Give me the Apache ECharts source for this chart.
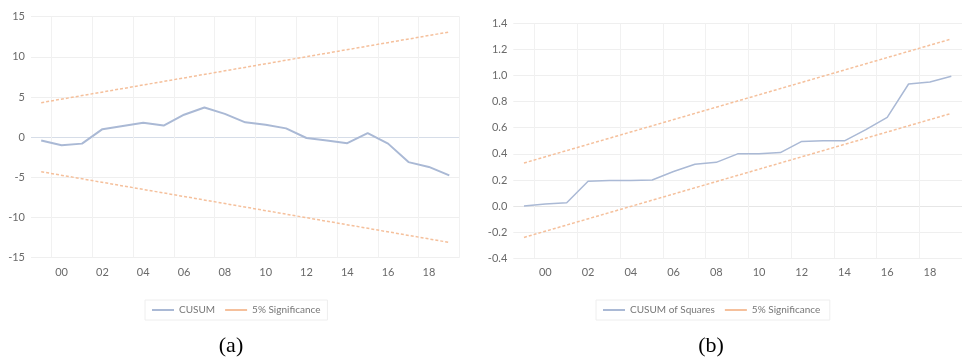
<!DOCTYPE html>
<html>
<head>
<meta charset="utf-8">
<title>CUSUM tests</title>
<script src="https://cdn.jsdelivr.net/npm/echarts@6/dist/echarts.min.js"></script>
<style>
  html, body { margin: 0; padding: 0; background: #fff; }
  #chart { width: 962px; height: 360px; }
</style>
</head>
<body>
<div id="chart"></div>
<script>
// 年份 1999-2019
const years = ['1999', '2000', '2001', '2002', '2003', '2004', '2005', '2006', '2007', '2008', '2009',
  '2010', '2011', '2012', '2013', '2014', '2015', '2016', '2017', '2018', '2019'];

// (a) CUSUM
const cusum = [-0.4, -1.0, -0.8, 1.0, 1.4, 1.8, 1.45, 2.8, 3.7, 2.9, 1.85,
  1.55, 1.1, -0.1, -0.4, -0.75, 0.5, -0.8, -3.1, -3.7, -4.75];
// 5% 显著性边界：直线，只取两端
const cusumUpper = [['1999', 4.3], ['2019', 13.1]];
const cusumLower = [['1999', -4.3], ['2019', -13.1]];
const cusumTicks = [-15, -10, -5, 0, 5, 10, 15];

// (b) CUSUM of Squares
const cusumSq = [0.0, 0.015, 0.025, 0.19, 0.195, 0.195, 0.2, 0.265, 0.32, 0.335, 0.4,
  0.4, 0.41, 0.495, 0.5, 0.5, 0.585, 0.68, 0.935, 0.95, 0.995];
const sqUpper = [['1999', 0.33], ['2019', 1.28]];
const sqLower = [['1999', -0.24], ['2019', 0.71]];
const sqTicks = [-0.4, -0.2, 0.0, 0.2, 0.4, 0.6, 0.8, 1.0, 1.2, 1.4];

const FONT = 'Lato';
const blue = '#aab9d5';
const orange = '#f5c09c';
const gridColor = '#efefef';

// 偶数年显示标签和竖线
const evenYear = (idx) => idx % 2 === 1;

function xAxis(gridIndex) {
  return {
    type: 'category',
    gridIndex: gridIndex,
    data: years,
    boundaryGap: true,
    axisLine: { show: false },
    axisTick: { show: false },
    axisLabel: {
      interval: evenYear,
      formatter: (v) => v.slice(2),
      color: '#6a6a6a',
      fontFamily: FONT,
      fontSize: 11,
      margin: 9
    },
    splitLine: { show: true, interval: evenYear, lineStyle: { color: '#f1f1f1', width: 1 } }
  };
}

function yAxis(gridIndex, ticks, digits, zeroColor) {
  const step = +(ticks[1] - ticks[0]).toFixed(2);
  return {
    type: 'value',
    gridIndex: gridIndex,
    min: ticks[0],
    max: ticks[ticks.length - 1],
    interval: step,
    axisLine: { show: false },
    axisTick: { show: false },
    axisLabel: {
      formatter: (v) => v.toFixed(digits),
      color: '#6a6a6a',
      fontFamily: FONT,
      fontSize: 11,
      margin: 6
    },
    splitLine: {
      lineStyle: { color: ticks.map((t) => (Math.abs(t) < 1e-9 ? zeroColor : gridColor)), width: 1 }
    }
  };
}

function line(name, data, axisIdx, color, width, dashed) {
  return {
    name: name,
    type: 'line',
    xAxisIndex: axisIdx,
    yAxisIndex: axisIdx,
    data: data,
    symbol: 'none',
    lineStyle: { color: color, width: width, type: dashed ? [3, 2] : 'solid' },
    itemStyle: { color: color }
  };
}

function legend(names, left) {
  return {
    data: names,
    left: left,
    top: 300,
    padding: [5, 7],
    icon: 'rect',
    itemWidth: 22,
    itemHeight: 2,
    itemGap: 10,
    borderColor: '#eeeeee',
    borderWidth: 1,
    textStyle: { color: '#777', fontFamily: FONT, fontSize: 10 }
  };
}

const chart = echarts.init(document.getElementById('chart'));

const option = {
  animation: false,
  backgroundColor: '#fff',
  grid: [
    { left: 31, right: 502.5, top: 16.7, height: 241 },
    { left: 513.3, right: -4.3, top: 23.3, height: 235 }
  ],
  xAxis: [xAxis(0), xAxis(1)],
  yAxis: [yAxis(0, cusumTicks, 0, '#d6dde8'), yAxis(1, sqTicks, 1, '#e6e6e6')],
  legend: [
    legend(['CUSUM', '5% Significance'], 145),
    legend(['CUSUM of Squares', '5% Significance '], 596)
  ],
  series: [
    line('CUSUM', cusum, 0, blue, 2, false),
    line('5% Significance', cusumUpper, 0, orange, 1.5, true),
    line('5% Significance', cusumLower, 0, orange, 1.5, true),
    line('CUSUM of Squares', cusumSq, 1, blue, 1.5, false),
    line('5% Significance ', sqUpper, 1, orange, 1.5, true),
    line('5% Significance ', sqLower, 1, orange, 1.5, true)
  ],
  graphic: [
    {
      type: 'text', x: 231, y: 346,
      style: { text: '(a)', font: '22px "Liberation Serif"', fill: '#000', textAlign: 'center', textVerticalAlign: 'middle' }
    },
    {
      type: 'text', x: 711, y: 346,
      style: { text: '(b)', font: '22px "Liberation Serif"', fill: '#000', textAlign: 'center', textVerticalAlign: 'middle' }
    }
  ]
};

chart.setOption(option);
</script>
</body>
</html>
